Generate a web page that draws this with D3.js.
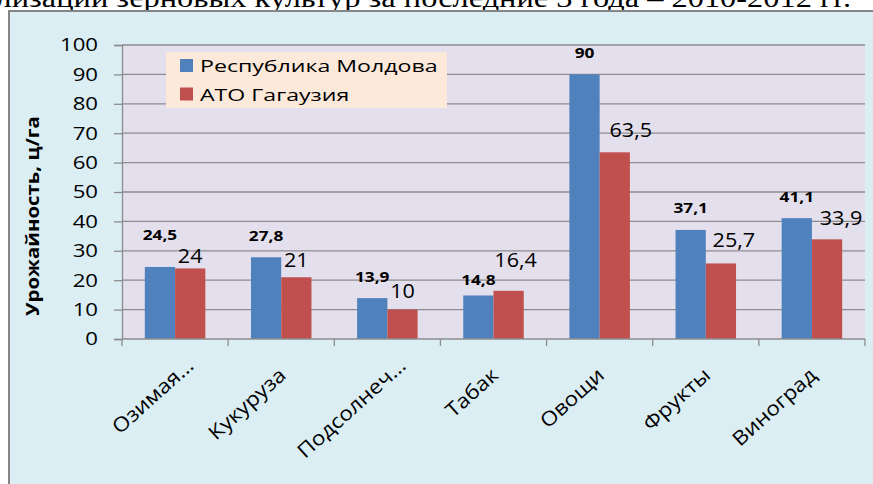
<!DOCTYPE html>
<html>
<head>
<meta charset="utf-8">
<script src="https://cdn.jsdelivr.net/npm/d3@7"></script>
<style>
    body { margin: 0; background: #fff; }
    svg { display: block; }
    text { font-family: "Open Sans", sans-serif; fill: #000; }
</style>
</head>
<body>
<div class="chart"></div>
<script>
const categories = ["Озимая…", "Кукуруза", "Подсолнеч…", "Табак", "Овощи", "Фрукты", "Виноград"];
const moldova = [24.5, 27.8, 13.9, 14.8, 90, 37.1, 41.1];
const gagauzia = [24, 21, 10, 16.4, 63.5, 25.7, 33.9];
const seriesNames = ["Республика Молдова", "АТО Гагаузия"];
const yTicks = [0, 10, 20, 30, 40, 50, 60, 70, 80, 90, 100];
const yTitle = "Урожайность, ц/га";
const caption = "ализации зерновых культур за последние 3 года – 2010-2012 гг.";

const w = 873;
const h = 484;
const plot = { left: 122, right: 865, top: 45, bottom: 339 };
const colors = ["#4f81bd", "#c0504d"];

// labels were dragged around by hand in the original
const labelNudge = {
    0: [[0, -11], [0, 7]],
    1: [[0, 0], [0, 2]],
    3: [[0, 6], [7, -12]],
    4: [[0, 0], [16, -3]],
    5: [[0, -1], [13, -4]],
    6: [[0, 0], [14, -2]]
};

const fmt = d => String(d).replace(".", ",");
// the original picture is stretched sideways, so is the text
const place = (x, y, s, rot = 0) => `translate(${x},${y}) rotate(${rot}) scale(${s},1)`;

const svg = d3.select(".chart")
    .append("svg")
    .attr("width", w)
    .attr("height", h);

svg.append("text")
    .attr("transform", place(851, 7, 1.2))
    .attr("text-anchor", "end")
    .style("font-family", "'Liberation Serif', serif")
    .style("font-size", "27px")
    .text(caption);

svg.append("rect")
    .attr("x", 9).attr("y", 11)
    .attr("width", w + 20).attr("height", h + 20)
    .attr("fill", "#dbeef4")
    .attr("stroke", "#858585")
    .attr("stroke-width", 2);

svg.append("rect")
    .attr("x", plot.left).attr("y", plot.top)
    .attr("width", plot.right - plot.left).attr("height", plot.bottom - plot.top)
    .attr("fill", "#e4dfec");

const y = d3.scaleLinear().domain([0, 100]).range([plot.bottom, plot.top]);
const x = d3.scaleBand()
    .domain(categories)
    .range([plot.left, plot.right])
    .paddingInner(0.43)
    .paddingOuter(0.215);
const xs = d3.scaleBand().domain([0, 1]).range([0, x.bandwidth()]);

// grid
svg.append("g")
    .selectAll("line")
    .data(yTicks.slice(1))
    .enter()
    .append("line")
    .attr("x1", plot.left).attr("x2", plot.right)
    .attr("y1", d => y(d)).attr("y2", d => y(d))
    .attr("stroke", "#8c8c8c")
    .attr("stroke-width", 1.3);

const yAxis = svg.append("g")
    .attr("transform", `translate(${plot.left},0)`)
    .call(d3.axisLeft(y).tickValues(yTicks).tickSize(8).tickPadding(16).tickFormat(d => d));
yAxis.selectAll("path, line").attr("stroke", "#8c8c8c").attr("stroke-width", 1.3);
yAxis.selectAll("text")
    .style("font-size", "18.5px")
    .attr("fill", "#000")
    .attr("transform", function () {
        const t = d3.select(this);
        return `translate(${t.attr("x")},0) scale(1.2,1) translate(${-t.attr("x")},0)`;
    });

// bars
const rows = categories.map((c, i) => ({ c, i, v: [moldova[i], gagauzia[i]] }));
const groups = svg.append("g")
    .selectAll("g")
    .data(rows)
    .enter()
    .append("g")
    .attr("transform", d => `translate(${x(d.c)},0)`);

groups.selectAll("rect")
    .data(d => d.v.map((v, s) => ({ v, s })))
    .enter()
    .append("rect")
    .attr("x", d => xs(d.s))
    .attr("y", d => y(d.v))
    .attr("width", xs.bandwidth())
    .attr("height", d => y(0) - y(d.v))
    .attr("fill", d => colors[d.s]);

// x axis line and boundary ticks
const step = x.step();
const bounds = d3.range(categories.length + 1).map(i => plot.left + i * step);
svg.append("line")
    .attr("x1", plot.left).attr("x2", plot.right)
    .attr("y1", plot.bottom).attr("y2", plot.bottom)
    .attr("stroke", "#8c8c8c").attr("stroke-width", 1.3);
svg.append("g")
    .selectAll("line")
    .data(bounds)
    .enter()
    .append("line")
    .attr("x1", d => d).attr("x2", d => d)
    .attr("y1", plot.bottom).attr("y2", plot.bottom + 7)
    .attr("stroke", "#8c8c8c").attr("stroke-width", 1.3);

// category labels
svg.append("g")
    .selectAll("text")
    .data(categories)
    .enter()
    .append("text")
    .attr("text-anchor", "end")
    .style("font-size", "20px")
    .attr("transform", d => {
        const cx = x(d) + x.bandwidth() / 2;
        return place(cx + 6, 377, 1.12, -42);
    })
    .attr("dx", d => d.endsWith("…") ? 15 : 0)
    .attr("dy", d => d.endsWith("…") ? 2 : 0)
    .text(d => d);

// value labels, clipped to the plot like the original
svg.append("clipPath").attr("id", "plotclip")
    .append("rect")
    .attr("x", plot.left).attr("y", 0)
    .attr("width", plot.right - plot.left).attr("height", plot.bottom);

const labels = svg.append("g").attr("clip-path", "url(#plotclip)");
rows.forEach(r => {
    r.v.forEach((v, s) => {
        const n = (labelNudge[r.i] || [[0, 0], [0, 0]])[s];
        const cx = x(r.c) + xs(s) + xs.bandwidth() / 2 + n[0];
        const cy = y(v) - (s === 0 ? 16 : 12) + n[1];
        labels.append("text")
            .attr("text-anchor", "middle")
            .attr("transform", place(cx, cy, s === 0 ? 1.15 : 1.08))
            .style("font-size", s === 0 ? "15px" : "20px")
            .style("font-weight", s === 0 ? "bold" : "normal")
            .text(fmt(v));
    });
});

// y title
svg.append("text")
    .attr("transform", place(39, 216, 1.2, -90))
    .attr("text-anchor", "middle")
    .style("font-size", "17px")
    .style("font-weight", "bold")
    .text(yTitle);

// legend
const legend = svg.append("g");
legend.append("rect")
    .attr("x", 166).attr("y", 52)
    .attr("width", 281).attr("height", 56)
    .attr("fill", "#fce9da");
const items = legend.selectAll("g")
    .data(seriesNames)
    .enter()
    .append("g")
    .attr("transform", (d, i) => `translate(180,${59 + i * 28.5})`);
items.append("rect")
    .attr("width", 13).attr("height", 13)
    .attr("fill", (d, i) => colors[i]);
items.append("text")
    .attr("transform", place(20, 13, 1.36))
    .style("font-size", "17px")
    .text(d => d);
</script>
</body>
</html>
